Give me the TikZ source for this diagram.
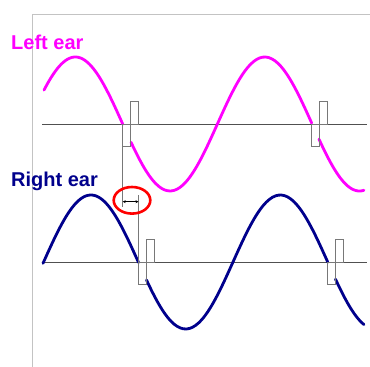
\documentclass[tikz,border=0pt]{standalone}
\usepackage{fontspec}
\setmainfont{Liberation Sans}
\usepackage{tikz}
\usetikzlibrary{arrows.meta,positioning}
\definecolor{earpink}{RGB}{255,0,255}
\definecolor{earnavy}{RGB}{0,0,140}
\definecolor{framegray}{RGB}{195,195,195}
\definecolor{axisgray}{RGB}{80,80,80}
\definecolor{markgray}{RGB}{120,120,120}

\begin{document}
\begin{tikzpicture}[
  x=1pt, y=-1pt,
  wave/.style={line width=2.8pt, line cap=round},
  axisline/.style={axisgray, line width=0.8pt},
  marker/.style={markgray, line width=0.8pt},
  lbl/.style={anchor=base west, inner sep=0pt, font=\fontsize{20}{24}\selectfont\bfseries}
]
\useasboundingbox (0,0) rectangle (370,367);

% frame
\draw[framegray, line width=0.9pt] (32.3,367) -- (32.3,14.3) -- (370,14.3);

% axes
\draw[axisline] (42,124) -- (367,124);
\draw[axisline] (42,262) -- (367,262);

% left ear
\foreach \a/\b in {44/122.7, 131/311.7, 319/364}
  \draw[wave, earpink] plot[domain=\a:\b, samples=60, smooth]
    (\x, {124 - 67*sin(1.9007*(\x-28))});

% right ear
\foreach \a/\b in {43/138.5, 146.5/327.7, 335.5/364}
  \draw[wave, earnavy] plot[domain=\a:\b, samples=60, smooth]
    (\x, {262 - 67*sin(1.9007*(\x-43.6))});

% zero-crossing markers
\foreach \mx/\my in {122.7/124, 311.7/124, 138.5/262, 327.7/262}
  \draw[marker] (\mx,\my) rectangle ++(8,22.5) (\mx+8,\my) rectangle ++(8,-22.5);

% delay
\coordinate (tl) at (122.7,147);
\coordinate (tlb) at (122.7,207);
\coordinate (tr) at (138.5,195);
\coordinate (trb) at (138.5,262);
\draw[marker] (tl) -- (tlb);
\draw[marker] (tr) -- (trb);
\coordinate (dl) at (122.7,201.7);
\coordinate (dr) at (138.5,201.7);
\draw[{Stealth[length=3pt,width=3pt]}-{Stealth[length=3pt,width=3pt]}, line width=0.6pt] (dl) -- (dr);
\draw[red, line width=2.6pt] (132,200.3) ellipse [x radius=18.3, y radius=13.3];

\node[lbl, text=earpink] (leftlbl) at (11,49) {Left ear};
\node[lbl, text=earnavy] (rightlbl) at (11,186) {Right ear};
\end{tikzpicture}
\end{document}
